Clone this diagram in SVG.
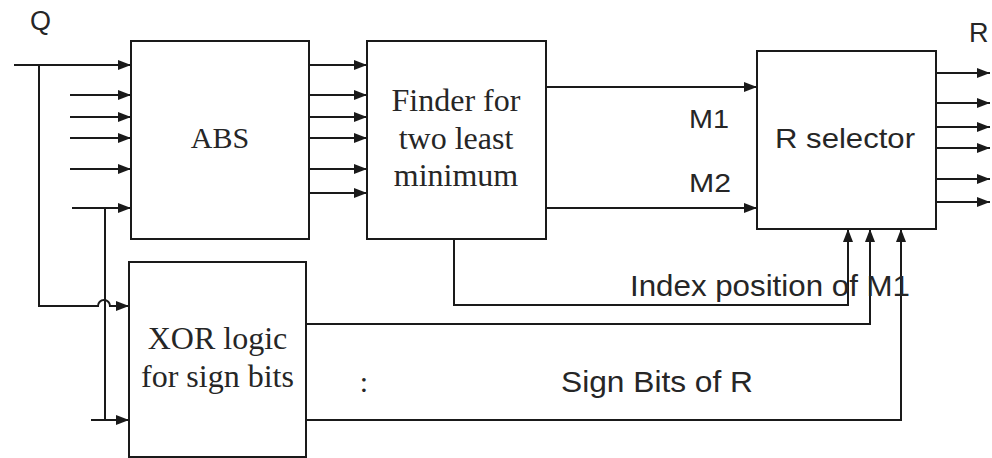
<svg xmlns="http://www.w3.org/2000/svg" width="992" height="458" viewBox="0 0 992 458">
<style>
.box{fill:#fff;stroke:#1a1a1a;stroke-width:2}
.ln{fill:none;stroke:#1a1a1a;stroke-width:2}
.arr{marker-end:url(#ah)}
.serif{font-family:"Liberation Serif","Times New Roman",serif;fill:#262626}
.sans{font-family:"Liberation Sans",Arial,sans-serif;fill:#262626}
</style>
<defs>
<marker id="ah" markerUnits="userSpaceOnUse" markerWidth="14" markerHeight="10" refX="13" refY="5" orient="auto">
<path d="M0,0 L13,5 L0,10 z" fill="#1a1a1a"/>
</marker>
</defs>
<rect width="992" height="458" fill="#fff"/>
<g id="connectors">
<!-- Q inputs to ABS -->
<path class="ln arr" d="M14,65 H131"/>
<path class="ln arr" d="M70,95 H131"/>
<path class="ln arr" d="M70,117 H131"/>
<path class="ln arr" d="M70,138 H131"/>
<path class="ln arr" d="M70,169 H131"/>
<path class="ln arr" d="M72,208 H131"/>
<!-- branches to XOR -->
<path class="ln arr" d="M39,65 V306 H98 A6,6 0 0 1 110,306 H129"/>
<path class="ln" d="M105,208 V420"/>
<path class="ln arr" d="M91,420 H129"/>
<!-- ABS to Finder -->
<path class="ln arr" d="M309,65 H367"/>
<path class="ln arr" d="M309,95 H367"/>
<path class="ln arr" d="M309,117 H367"/>
<path class="ln arr" d="M309,138 H367"/>
<path class="ln arr" d="M309,169 H367"/>
<path class="ln arr" d="M309,193 H367"/>
<!-- Finder to R selector -->
<path class="ln arr" d="M546,87 H757"/>
<path class="ln arr" d="M546,208 H757"/>
<!-- index, xor, sign bits to R selector -->
<path class="ln arr" d="M454,239 V305 H848 V229"/>
<path class="ln arr" d="M306,324 H870 V229"/>
<path class="ln arr" d="M306,420 H901 V229"/>
<!-- R outputs -->
<path class="ln arr" d="M933,73 H990"/>
<path class="ln arr" d="M933,103 H990"/>
<path class="ln arr" d="M933,127 H990"/>
<path class="ln arr" d="M933,148 H990"/>
<path class="ln arr" d="M933,179 H990"/>
<path class="ln arr" d="M933,202 H990"/>
</g>
<g id="abs">
<rect class="box" x="131" y="41" width="178" height="198"/>
<text class="serif" x="220" y="148" font-size="30" text-anchor="middle">ABS</text>
</g>
<g id="finder">
<rect class="box" x="367" y="41" width="179" height="198"/>
<text class="serif" x="456" y="111" font-size="32" text-anchor="middle">Finder for</text>
<text class="serif" x="456" y="149" font-size="32" text-anchor="middle">two least</text>
<text class="serif" x="456" y="186" font-size="32" text-anchor="middle">minimum</text>
</g>
<g id="rselector">
<rect class="box" x="757" y="51" width="179" height="178"/>
<text class="sans" x="775" y="148" font-size="28" textLength="140" lengthAdjust="spacingAndGlyphs">R selector</text>
</g>
<g id="xor">
<rect class="box" x="129" y="262" width="177" height="195"/>
<text class="serif" x="217.5" y="349" font-size="32" text-anchor="middle">XOR logic</text>
<text class="serif" x="217.5" y="387" font-size="32" text-anchor="middle">for sign bits</text>
</g>
<g id="labels">
<text class="sans" x="30" y="30" font-size="27">Q</text>
<text class="sans" x="969" y="42" font-size="27">R</text>
<text class="sans" x="689" y="128" font-size="25" textLength="40" lengthAdjust="spacingAndGlyphs">M1</text>
<text class="sans" x="689" y="192" font-size="25" textLength="42" lengthAdjust="spacingAndGlyphs">M2</text>
<text class="sans" x="630" y="296" font-size="29" textLength="280" lengthAdjust="spacingAndGlyphs">Index position of M1</text>
<text class="sans" x="561" y="392" font-size="29" textLength="192" lengthAdjust="spacingAndGlyphs">Sign Bits of R</text>
<text class="serif" x="364" y="392" font-size="30" text-anchor="middle">:</text>
</g>
</svg>
